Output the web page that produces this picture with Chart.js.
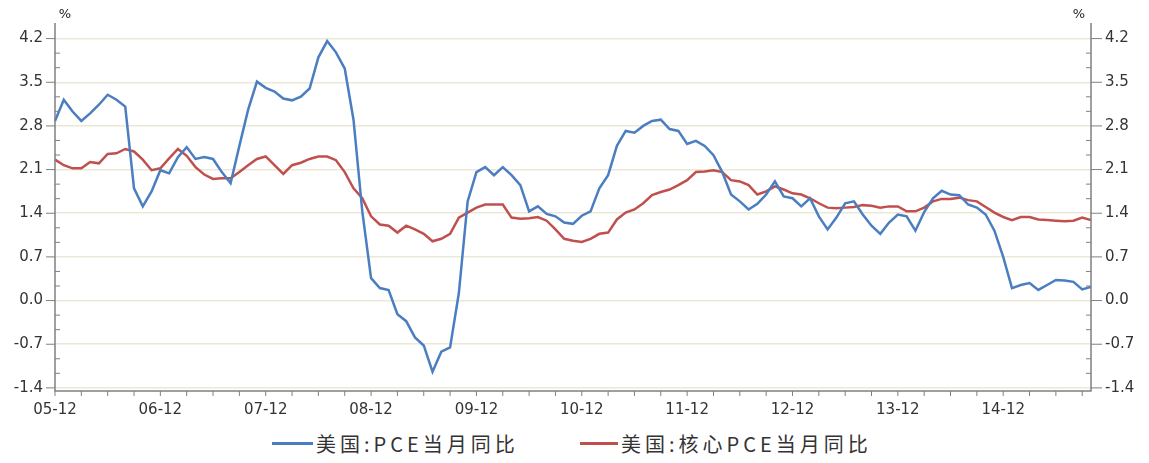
<!DOCTYPE html>
<html>
<head>
<meta charset="utf-8">
<script src="https://cdn.jsdelivr.net/npm/chart.js@4.4.1/dist/chart.umd.min.js"></script>
<style>
body { margin: 0; background: #fff; }
#wrap { position: relative; width: 1149px; height: 463px; }
#box { position: absolute; left: 0; top: 0; width: 1149px; height: 424px; }
.lg { position: absolute; top: 431px; height: 24px; display: flex; align-items: center;
      font-family: 'Noto Sans CJK SC'; font-size: 20px; letter-spacing: 4px; color: #333; white-space: nowrap; }
.lg span { display: inline-block; height: 3px; margin-right: 3px; }
</style>
</head>
<body>
<div id="wrap">
  <div id="box"><canvas id="pce"></canvas></div>
</div>
<script>
// months 05-12 ... 15-10
var months = [];
for (var k = 0; k < 119; k++) {
  var m = 11 + k;
  var yy = 5 + Math.floor(m / 12), mm = m % 12 + 1;
  months.push((yy < 10 ? '0' : '') + yy + '-' + (mm < 10 ? '0' : '') + mm);
}

var seriesNames = ['美国:PCE当月同比', '美国:核心PCE当月同比'];
var seriesColors = ['#4A7EC1', '#C0504D'];

var pce = [
  2.88, 3.22, 3.03, 2.88, 3.00, 3.14, 3.30, 3.22, 3.11, 1.80, 1.51, 1.75,
  2.09, 2.04, 2.30, 2.46, 2.27, 2.30, 2.27, 2.06, 1.88, 2.48, 3.06, 3.51,
  3.41, 3.35, 3.24, 3.21, 3.27, 3.40, 3.90, 4.16, 3.98, 3.72, 2.90, 1.43,
  0.36, 0.20, 0.17, -0.22, -0.33, -0.59, -0.72, -1.14, -0.82, -0.75, 0.12, 1.59,
  2.06, 2.14, 2.01, 2.14, 2.01, 1.85, 1.43, 1.51, 1.39, 1.35, 1.25, 1.23,
  1.36, 1.43, 1.80, 2.01, 2.48, 2.72, 2.69, 2.80, 2.88, 2.90, 2.75, 2.72,
  2.51, 2.56, 2.48, 2.33, 2.06, 1.70, 1.59, 1.46, 1.55, 1.70, 1.91, 1.67,
  1.64, 1.51, 1.64, 1.35, 1.14, 1.33, 1.56, 1.59, 1.38, 1.20, 1.07, 1.25,
  1.38, 1.35, 1.12, 1.42, 1.64, 1.76, 1.70, 1.69, 1.54, 1.49, 1.38, 1.12,
  0.70, 0.20, 0.25, 0.28, 0.17, 0.25, 0.33, 0.32, 0.30, 0.18, 0.22
];

var corePce = [
  2.26, 2.17, 2.12, 2.12, 2.22, 2.20, 2.35, 2.36, 2.43, 2.39, 2.26, 2.09,
  2.12, 2.28, 2.43, 2.32, 2.14, 2.02, 1.95, 1.96, 1.96, 2.06, 2.17, 2.27,
  2.31, 2.17, 2.03, 2.17, 2.21, 2.27, 2.31, 2.31, 2.25, 2.06, 1.80, 1.64,
  1.35, 1.22, 1.20, 1.09, 1.20, 1.14, 1.07, 0.95, 0.99, 1.07, 1.33, 1.41,
  1.49, 1.54, 1.54, 1.54, 1.33, 1.31, 1.32, 1.34, 1.28, 1.14, 0.99, 0.96,
  0.94, 0.99, 1.07, 1.09, 1.30, 1.41, 1.46, 1.56, 1.69, 1.74, 1.78, 1.85,
  1.93, 2.06, 2.07, 2.09, 2.06, 1.93, 1.91, 1.85, 1.70, 1.75, 1.83, 1.78,
  1.72, 1.70, 1.64, 1.56, 1.49, 1.48, 1.49, 1.50, 1.53, 1.52, 1.49, 1.51,
  1.51, 1.43, 1.43, 1.49, 1.59, 1.63, 1.63, 1.65, 1.61, 1.59, 1.50, 1.41,
  1.34, 1.29, 1.34, 1.34, 1.30, 1.29, 1.28, 1.27, 1.28, 1.33, 1.29
];

var yTicks = [-1.4, -0.7, 0.0, 0.7, 1.4, 2.1, 2.8, 3.5, 4.2];

// legend as html under the canvas
var legendLeft = [272, 580], swatchW = [41, 38];
seriesNames.forEach(function (name, i) {
  var d = document.createElement('div');
  d.className = 'lg';
  d.style.left = legendLeft[i] + 'px';
  var s = document.createElement('span');
  s.style.width = swatchW[i] + 'px';
  s.style.background = seriesColors[i];
  d.appendChild(s);
  d.appendChild(document.createTextNode(name));
  document.getElementById('wrap').appendChild(d);
});

// axis lines, tick marks and the % units
var axisMarks = {
  id: 'axisMarks',
  afterDatasetsDraw: function (chart) {
    var ctx = chart.ctx, a = chart.chartArea, x = chart.scales.x, y = chart.scales.y;
    ctx.save();
    ctx.strokeStyle = '#808080';
    ctx.lineWidth = 1.5;
    ctx.beginPath();
    ctx.moveTo(a.left, a.top); ctx.lineTo(a.left, a.bottom);
    ctx.lineTo(a.right, a.bottom); ctx.lineTo(a.right, a.top);
    ctx.stroke();

    ctx.lineWidth = 1;
    ctx.beginPath();
    for (var i = 0; i < yTicks.length; i++) {
      var py = y.getPixelForValue(yTicks[i]);
      ctx.moveTo(a.left - 9, py); ctx.lineTo(a.left, py);
      ctx.moveTo(a.right, py); ctx.lineTo(a.right + 11, py);
      if (i < yTicks.length - 1) {
        for (var j = 1; j <= 2; j++) {
          var my = y.getPixelForValue(yTicks[i] + j * 0.7 / 3);
          ctx.moveTo(a.left, my); ctx.lineTo(a.left + 5, my);
          ctx.moveTo(a.right - 5, my); ctx.lineTo(a.right, my);
        }
      }
    }
    for (var q = 0; q < months.length; q += 3) {
      var px = x.getPixelForValue(q);
      ctx.moveTo(px, a.bottom); ctx.lineTo(px, a.bottom + 5);
    }
    ctx.stroke();

    ctx.fillStyle = '#222';
    ctx.font = '13px "DejaVu Sans"';
    ctx.textAlign = 'center';
    ctx.textBaseline = 'middle';
    ctx.fillText('%', a.left + 10, 15);
    ctx.fillText('%', a.right - 12, 15);
    ctx.restore();
  }
};

var tickFont = { family: 'DejaVu Sans', size: 15 };

new Chart(document.getElementById('pce').getContext('2d'), {
  type: 'line',
  data: {
    labels: months,
    datasets: [{
      label: seriesNames[0],
      data: pce,
      borderColor: seriesColors[0],
      backgroundColor: seriesColors[0],
      borderWidth: 2.5,
      pointRadius: 0,
      tension: 0
    }, {
      label: seriesNames[1],
      data: corePce,
      borderColor: seriesColors[1],
      backgroundColor: seriesColors[1],
      borderWidth: 2.5,
      pointRadius: 0,
      tension: 0
    }]
  },
  options: {
    responsive: true,
    maintainAspectRatio: false,
    animation: false,
    layout: { padding: { top: 15, left: 0, right: 0, bottom: 0 } },
    plugins: {
      legend: { display: false },
      tooltip: { enabled: false }
    },
    scales: {
      x: {
        grid: { display: false, drawTicks: false },
        border: { display: false },
        ticks: {
          autoSkip: false, maxRotation: 0, padding: 10, color: '#333', font: tickFont,
          callback: function (v) {
            var l = this.getLabelForValue(v);
            return l.slice(3) === '12' ? l : '';
          }
        },
        afterFit: function (s) { s.height = 33; }
      },
      y: {
        min: -1.45, max: 4.45,
        afterBuildTicks: function (s) { s.ticks = yTicks.map(function (v) { return { value: v }; }); },
        grid: { color: '#ECE8D6', lineWidth: 1.5, drawTicks: false },
        border: { display: false },
        ticks: { padding: 12, color: '#333', font: tickFont, callback: function (v) { return v.toFixed(1); } },
        afterFit: function (s) { s.width = 55; }
      },
      y2: {
        position: 'right',
        min: -1.45, max: 4.45,
        afterBuildTicks: function (s) { s.ticks = yTicks.map(function (v) { return { value: v }; }); },
        grid: { display: false, drawTicks: false },
        border: { display: false },
        ticks: { padding: 14, color: '#333', font: tickFont, callback: function (v) { return v.toFixed(1); } },
        afterFit: function (s) { s.width = 58; }
      }
    }
  },
  plugins: [axisMarks]
});
</script>
</body>
</html>
